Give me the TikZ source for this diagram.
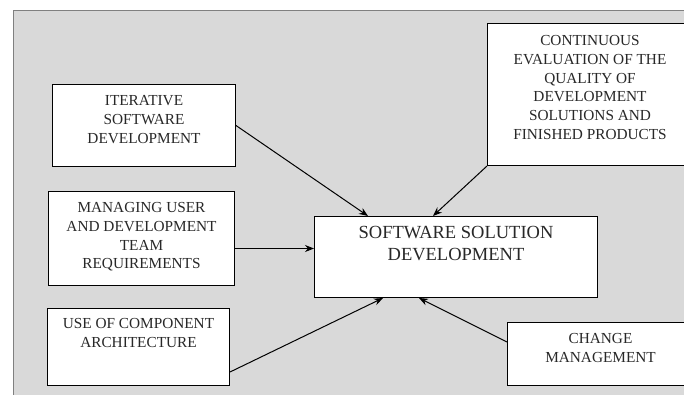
\documentclass[tikz,border=0pt]{standalone}
\usepackage{fontspec}
\setmainfont{Liberation Serif}
\usetikzlibrary{arrows.meta,positioning}
\definecolor{panelgray}{RGB}{217,217,217}
\definecolor{textgray}{RGB}{40,40,40}

\begin{document}
\begin{tikzpicture}[x=1pt,y=-1pt,semithick]
        \tikzstyle{panel}=[
            fill=panelgray,
            draw=gray,
            line width=0.8pt
        ]
        \tikzstyle{factorbox}=[
            rectangle,
            draw=black,
            fill=white,
            line width=1pt,
            anchor=north west,
            inner sep=0pt
        ]
        \tikzstyle{factortext}=[
            align=center,
            inner sep=0pt,
            text=textgray,
            font=\fontsize{15.3}{18.8}\selectfont
        ]
        \tikzstyle{maintext}=[
            align=center,
            inner sep=0pt,
            text=textgray,
            font=\fontsize{18.5}{21.5}\selectfont
        ]
        \tikzstyle{influence}=[
            -{Stealth[length=9pt,width=7pt]},
            line width=1pt,
            draw=black
        ]

        \useasboundingbox (0,0) rectangle (684,394);
        \clip (0,0) rectangle (684,394);
        \draw[panel] (13,10) rectangle (700,410);

        \node[factorbox, minimum width=183pt, minimum height=82pt] (iter) at (52,84){};
        \node[factorbox, minimum width=186pt, minimum height=94pt] (manag) at (48,191){};
        \node[factorbox, minimum width=182pt, minimum height=77pt] (comp) at (47,308){};
        \node[factorbox, minimum width=205pt, minimum height=142pt] (cont) at (487,23){};
        \node[factorbox, minimum width=186pt, minimum height=63pt] (change) at (507,322){};
        \node[factorbox, minimum width=283pt, minimum height=81pt] (soft) at (314,216){};

        \node[factortext, below=11pt of iter.north] (iterT){ITERATIVE\\SOFTWARE\\DEVELOPMENT};
        \node[factortext, below=11pt of manag.north] (managT){MANAGING USER\\AND DEVELOPMENT\\TEAM\\REQUIREMENTS};
        \node[factortext, below=10pt of comp.north] (compT){USE OF COMPONENT\\ARCHITECTURE};
        \node[factortext, below=12pt of cont.north] (contT){CONTINUOUS\\EVALUATION OF THE\\QUALITY OF\\DEVELOPMENT\\SOLUTIONS AND\\FINISHED PRODUCTS};
        \node[factortext, below=11pt of change.north] (changeT){CHANGE\\MANAGEMENT};
        \node[maintext, below=10pt of soft.north] (softT){SOFTWARE SOLUTION\\DEVELOPMENT};

        \draw[influence] (iter.east) to ([xshift=54pt]soft.north west);
        \draw[influence] (cont.south west) to ([xshift=119pt]soft.north west);
        \draw[influence] ([yshift=-10pt]manag.east) to ([yshift=-10pt]manag.east -| soft.west);
        \draw[influence] ([yshift=-25pt]comp.east) to ([xshift=69pt]soft.south west);
        \draw[influence] ([yshift=12pt]change.west) to ([xshift=105pt]soft.south west);
        % \node at (20,2) {p};

    \end{tikzpicture}
\end{document}
